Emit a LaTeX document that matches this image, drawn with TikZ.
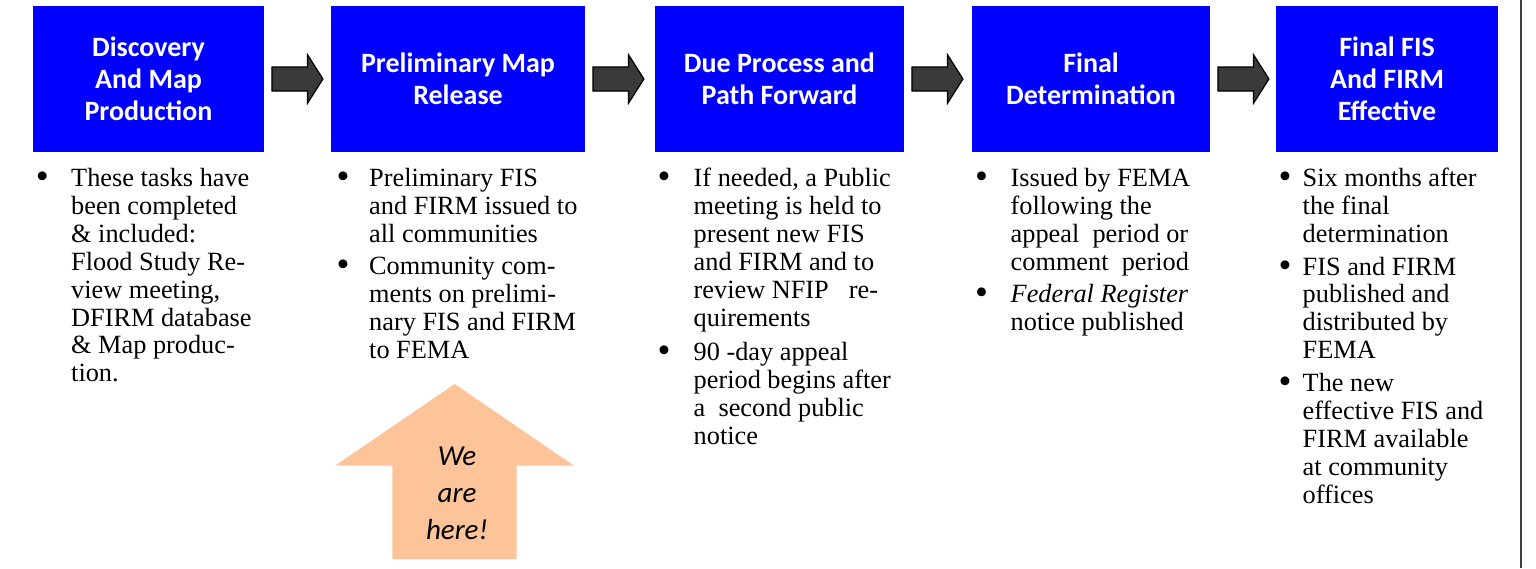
\documentclass[tikz,border=0pt]{standalone}
\usepackage{fontspec}
\setmainfont{Liberation Serif}
\newfontfamily\titlefont{Carlito}
\usetikzlibrary{calc}
\definecolor{boxblue}{RGB}{0,0,255}
\definecolor{arrgray}{RGB}{58,58,58}
\definecolor{peach}{RGB}{252,196,152}
\definecolor{rulegray}{RGB}{64,64,64}
\newcommand\toplines[1]{\begin{tabular}[t]{@{}l@{}}#1\end{tabular}}
\newcommand\bigbul{\raisebox{-2pt}{\scalebox{1.4}{\textbullet}}}
\begin{document}
\begin{tikzpicture}[x=1pt,y=-1pt,
  titlebox/.style={fill=boxblue, draw=none, text=white, align=center, inner sep=0pt,
    minimum height=146pt, font=\titlefont\bfseries\fontsize{28}{32}\selectfont},
  blockarr/.style={fill=arrgray, draw=black, line width=1.2pt, line join=miter},
  itemtext/.style={anchor=base west, inner sep=0pt,
    font=\fontsize{26.3}{27.86}\selectfont},
  bulletmark/.style={anchor=base, inner sep=0pt, font=\fontsize{26.3}{27.86}\selectfont},
  herearrow/.style={fill=peach, draw=none},
  heretext/.style={align=center, inner sep=0pt, font=\titlefont\itshape\fontsize{29}{37}\selectfont}
]
\useasboundingbox (0,0) rectangle (1536,568);

% title boxes
\node[titlebox, minimum width=231pt] (b1) at (148.5,79) {Discovery\\And Map\\Production};
\node[titlebox, minimum width=254pt] (b2) at (458,79) {Preliminary Map\\Release};
\node[titlebox, minimum width=249pt] (b3) at (779.5,79) {Due Process and\\Path Forward};
\node[titlebox, minimum width=238pt] (b4) at (1091,79) {Final\\Determination};
\node[titlebox, minimum width=222pt] (b5) at (1387,79) {Final FIS\\And FIRM\\Effective};

% block arrows between boxes
\foreach \s in {b1,b2,b3,b4}{
  \draw[blockarr] ($(\s.east)+(7.7,12)$) -- ++(35.6,0) -- ++(0,12.3) -- ++(15.4,-24.3)
    -- ++(-15.4,-24.3) -- ++(0,12.3) -- ++(-35.6,0) -- cycle;
}

% column 1
\node[bulletmark] (c1m1) at (42.3,186.7) {\bigbul};
\node[itemtext] (c1t1) at (71,186.7) {\toplines{These tasks have\\been completed\\\& included:\\Flood Study Re-\\view meeting,\\DFIRM database\\\& Map produc-\\tion.}};

% column 2
\node[bulletmark] (c2m1) at (343,186.7) {\bigbul};
\node[itemtext] (c2t1) at (369,186.7) {\toplines{Preliminary FIS\\and FIRM issued to\\all communities}};
\node[bulletmark] (c2m2) at (343,274.5) {\bigbul};
\node[itemtext] (c2t2) at (369,274.5) {\toplines{Community com-\\ments on prelimi-\\nary FIS and FIRM\\to FEMA}};

% column 3
\node[bulletmark] (c3m1) at (664,186.7) {\bigbul};
\node[itemtext] (c3t1) at (693.5,186.7) {\toplines{If needed, a Public\\meeting is held to\\present new FIS\\and FIRM and to\\review NFIP\hspace{20pt}re-\\quirements}};
\node[bulletmark] (c3m2) at (664,360.5) {\bigbul};
\node[itemtext] (c3t2) at (693.5,360.5) {\toplines{90 -day appeal\\period begins after\\a\ \ second public\\notice}};

% column 4
\node[bulletmark] (c4m1) at (981.5,186.7) {\bigbul};
\node[itemtext] (c4t1) at (1010.5,186.7) {\toplines{Issued by FEMA\\following the\\appeal\ \ period or\\comment\ \ period}};
\node[bulletmark] (c4m2) at (981.5,302.5) {\bigbul};
\node[itemtext] (c4t2) at (1010.5,302.5) {\toplines{\textit{Federal Register}\\notice published}};

% column 5
\node[bulletmark] (c5m1) at (1285,186.7) {\bigbul};
\node[itemtext] (c5t1) at (1302.5,186.7) {\toplines{Six months after\\the final\\determination}};
\node[bulletmark] (c5m2) at (1285,275) {\bigbul};
\node[itemtext] (c5t2) at (1302.5,275) {\toplines{FIS and FIRM\\published and\\distributed by\\FEMA}};
\node[bulletmark] (c5m3) at (1285,391.7) {\bigbul};
\node[itemtext] (c5t3) at (1302.5,391.7) {\toplines{The new\\effective FIS and\\FIRM available\\at community\\offices}};

% we are here arrow
\fill[herearrow] (454.7,384) -- (574,465.7) -- (516.7,465.7) -- (516.7,559)
  -- (392.3,559) -- (392.3,465.7) -- (335,465.7) -- cycle;
\node[heretext] (here) at (457,493) {We\\are\\here!};

% right border line
\draw[rulegray, line width=2pt] (1520.7,0) -- (1520.7,568);
\end{tikzpicture}
\end{document}
